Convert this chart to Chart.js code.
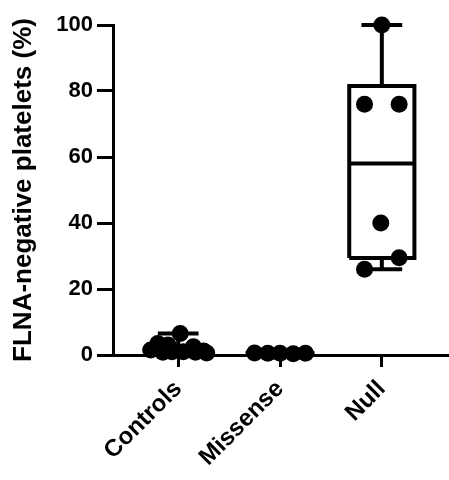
<!DOCTYPE html>
<html>
<head>
<meta charset="utf-8">
<script src="https://cdn.jsdelivr.net/npm/chart.js@4"></script>
<style>
  body { margin: 0; background: #fff; }
  #wrap { width: 449px; height: 480px; }
</style>
</head>
<body>
<div id="wrap"><canvas id="myChart" width="449" height="480"></canvas></div>
<script>
/* Donnees */
var categories = ['Controls', 'Missense', 'Null'];
var controls = [6.5, 3.5, 3, 2.5, 1.5, 1.2, 1, 1, 0.8, 0.8, 0.6];
var missense = [0.6, 0.5, 0.5, 0.4, 0.5];
var nullGroup = [100, 76, 76, 40, 29.5, 26];
var yTicks = [0, 20, 40, 60, 80, 100];

// resume des boites (min, q1, mediane, q3, max)
var boxMin = [0.6, 0.4, 26];
var boxQ1 = [0.8, 0.45, 29.4];
var boxMedian = [1, 0.5, 58];
var boxQ3 = [1.8, 0.55, 81.5];
var boxMax = [6.5, 0.6, 100];

// decalage horizontal des points (dispersion)
var jitterControls = [0.02, -0.2, -0.1, 0.15, -0.27, 0.25, 0.05, -0.06, 0.17, -0.15, 0.28];
var jitterMissense = [-0.25, -0.12, 0, 0.13, 0.25];
var jitterNull = [0, -0.17, 0.17, -0.01, 0.17, -0.17];

var boxHalf = 0.32;
var capHalf = 0.2;

function pts(values, jitter, idx) {
  return values.map(function(v, i) { return { x: idx + jitter[i], y: v }; });
}

function boxPath(i) {
  var gap = { x: i, y: null };
  return [
    { x: i - boxHalf, y: boxQ1[i] }, { x: i - boxHalf, y: boxQ3[i] },
    { x: i + boxHalf, y: boxQ3[i] }, { x: i + boxHalf, y: boxQ1[i] },
    { x: i - boxHalf, y: boxQ1[i] }, gap,
    { x: i - boxHalf, y: boxMedian[i] }, { x: i + boxHalf, y: boxMedian[i] }, gap,
    { x: i, y: boxQ3[i] }, { x: i, y: boxMax[i] }, gap,
    { x: i - capHalf, y: boxMax[i] }, { x: i + capHalf, y: boxMax[i] }, gap,
    { x: i, y: boxQ1[i] }, { x: i, y: boxMin[i] }, gap,
    { x: i - capHalf, y: boxMin[i] }, { x: i + capHalf, y: boxMin[i] }
  ];
}

function boxDataset(i) {
  return {
    type: 'line', data: boxPath(i), showLine: true, spanGaps: false,
    borderColor: '#000', borderWidth: 4, pointRadius: 0, fill: false,
    clip: false, order: 2, borderJoinStyle: 'miter'
  };
}

function pointDataset(values, jitter, idx) {
  return {
    data: pts(values, jitter, idx), pointRadius: 8.5, pointBackgroundColor: '#000',
    pointBorderWidth: 0, borderColor: '#000', clip: false, order: 1
  };
}

var font = "'Liberation Sans', Arial, sans-serif";

var ctx = document.getElementById('myChart').getContext('2d');
var chart = new Chart(ctx, {
  type: 'scatter',
  data: {
    datasets: [
      boxDataset(0), boxDataset(1), boxDataset(2),
      pointDataset(controls, jitterControls, 0),
      pointDataset(missense, jitterMissense, 1),
      pointDataset(nullGroup, jitterNull, 2)
    ]
  },
  options: {
    responsive: false,
    animation: false,
    layout: { autoPadding: false, padding: { top: 25, right: 2, left: 0, bottom: 0 } },
    plugins: { legend: { display: false }, tooltip: { enabled: false } },
    scales: {
      x: {
        type: 'linear', min: -0.64, max: 2.64,
        afterBuildTicks: function(scale) {
          scale.ticks = categories.map(function(c, i) { return { value: i }; });
        },
        afterFit: function(scale) {
          scale.height = 125;
          scale.paddingLeft = 0;
          scale.paddingRight = 0;
        },
        border: { color: '#000', width: 3 },
        grid: { drawOnChartArea: false, color: '#000', lineWidth: 3, tickLength: 12 },
        ticks: {
          autoSkip: false, minRotation: 45, maxRotation: 45, padding: 8,
          color: '#000', font: { family: font, size: 24, weight: 'bold' },
          callback: function(v) { return categories[v]; }
        }
      },
      y: {
        min: 0, max: 100,
        afterBuildTicks: function(scale) {
          scale.ticks = yTicks.map(function(v) { return { value: v }; });
        },
        afterFit: function(scale) {
          scale.width = 113;
          scale.paddingTop = 0;
          scale.paddingBottom = 0;
        },
        border: { color: '#000', width: 3 },
        grid: { drawOnChartArea: false, color: '#000', lineWidth: 3, tickLength: 16 },
        ticks: { color: '#000', padding: 4, font: { family: font, size: 22, weight: 'bold' } },
        title: {
          display: true, text: 'FLNA-negative platelets (%)', color: '#000',
          padding: { top: 8, bottom: 0 },
          font: { family: font, size: 26, weight: 'bold' }
        }
      }
    }
  }
});
</script>
</body>
</html>
